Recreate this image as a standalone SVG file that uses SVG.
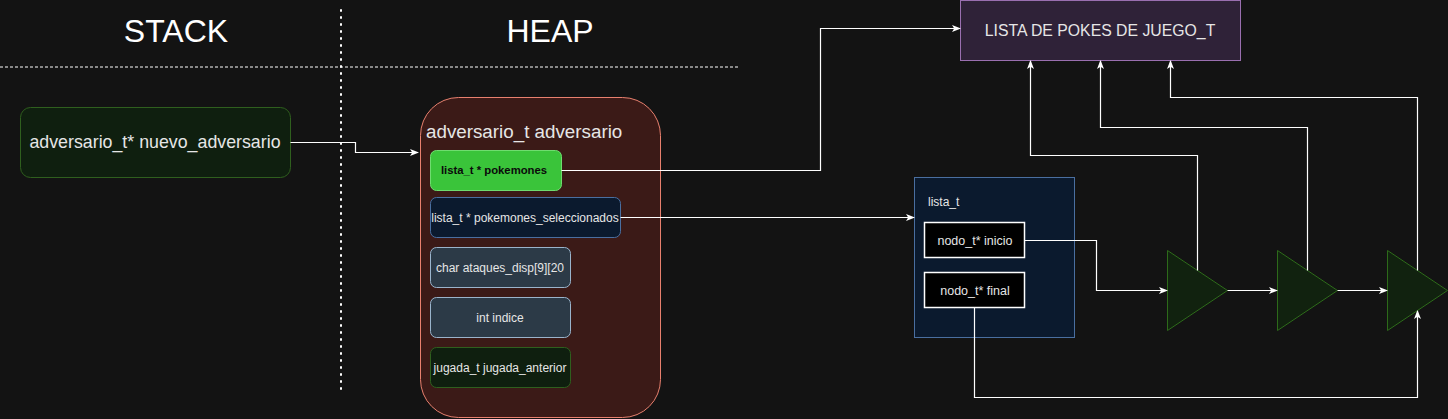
<svg xmlns="http://www.w3.org/2000/svg" width="1448" height="419" viewBox="0 0 1448 419">
<style>
text{font-family:"Liberation Sans",Arial,sans-serif;fill:#e6e6e6}
.edge{fill:none;stroke:#ffffff;stroke-width:1.2}
.tri{fill:#11220f;stroke:#2d6a1a;stroke-width:1}
</style>
<defs>
<marker id="arr" markerWidth="10" markerHeight="8" refX="8" refY="4" orient="auto" markerUnits="userSpaceOnUse">
<path d="M0,0.5 L9,4 L0,7.5 L2.2,4 Z" fill="#ffffff"/>
</marker>
</defs>
<rect width="1448" height="419" fill="#131313"/>

<g id="headers">
<text x="176" y="42" font-size="32" text-anchor="middle" style="fill:#ffffff">STACK</text>
<text x="550" y="42" font-size="32" text-anchor="middle" style="fill:#ffffff">HEAP</text>
<line x1="341" y1="10" x2="341" y2="392" stroke="#ffffff" stroke-width="2" stroke-dasharray="1 6" stroke-linecap="round"/>
<line x1="0" y1="67" x2="740" y2="67" stroke="#ffffff" stroke-width="1" stroke-dasharray="3 2"/>
</g>

<g id="nuevo_adversario">
<rect x="20.5" y="107.5" width="270" height="70" rx="10" fill="#0f1f0f" stroke="#2f5f1e"/>
<text x="155" y="148" font-size="17.8" text-anchor="middle">adversario_t* nuevo_adversario</text>
</g>

<g id="adversario">
<rect x="420.5" y="97.5" width="240" height="320" rx="38" fill="#3b1a17" stroke="#e8806e"/>
<text x="426" y="138" font-size="18.8">adversario_t adversario</text>
</g>

<g id="pokemones">
<rect x="430.5" y="150.5" width="131" height="40" rx="6" fill="#3ac43a" stroke="#6fdc6f"/>
<text x="494" y="174" font-size="11.3" font-weight="bold" text-anchor="middle" style="fill:#0a0a0a">lista_t * pokemones</text>
</g>

<g id="pokemones_seleccionados">
<rect x="430.5" y="197.5" width="190" height="40" rx="6" fill="#0b1a2e" stroke="#4a6fa0"/>
<text x="525" y="221.5" font-size="12" text-anchor="middle">lista_t * pokemones_seleccionados</text>
</g>

<g id="ataques_disp">
<rect x="430.5" y="247.5" width="140" height="40" rx="6" fill="#2c3a47" stroke="#9ab4cc"/>
<text x="500" y="271.5" font-size="12" text-anchor="middle">char ataques_disp[9][20</text>
</g>

<g id="indice">
<rect x="430.5" y="297.5" width="140" height="40" rx="6" fill="#2c3a47" stroke="#9ab4cc"/>
<text x="500" y="321.5" font-size="12" text-anchor="middle">int indice</text>
</g>

<g id="jugada_anterior">
<rect x="430.5" y="347.5" width="140" height="40" rx="6" fill="#0f1f0f" stroke="#2f5f1e"/>
<text x="500" y="371.5" font-size="12" text-anchor="middle">jugada_t jugada_anterior</text>
</g>

<g id="lista_juego">
<rect x="960.5" y="0.5" width="280" height="60" fill="#2f2238" stroke="#9a6fb0"/>
<text x="1100" y="35.5" font-size="15.8" text-anchor="middle">LISTA DE POKES DE JUEGO_T</text>
</g>

<g id="lista_t">
<rect x="914.5" y="177.5" width="160" height="160" fill="#0b1a2e" stroke="#4a6fa0"/>
<text x="928" y="206" font-size="12">lista_t</text>
</g>

<g id="inicio">
<rect x="924.5" y="222.5" width="100" height="35" fill="#000000" stroke="#ffffff" stroke-width="1.5"/>
<text x="975" y="244.5" font-size="12.5" text-anchor="middle">nodo_t* inicio</text>
</g>

<g id="final">
<rect x="924.5" y="272.5" width="100" height="35" fill="#000000" stroke="#ffffff" stroke-width="1.5"/>
<text x="975" y="294.5" font-size="12.5" text-anchor="middle">nodo_t* final</text>
</g>

<g id="nodo1"><polygon class="tri" points="1167.5,250.5 1227.5,290.5 1167.5,330.5"/></g>
<g id="nodo2"><polygon class="tri" points="1277.5,250.5 1337.5,290.5 1277.5,330.5"/></g>
<g id="nodo3"><polygon class="tri" points="1387.5,250.5 1447.5,290.5 1387.5,330.5"/></g>

<g id="connectors">
<path class="edge" d="M290.5,142.5 H355.5 V152.5 H418" marker-end="url(#arr)"/>
<path class="edge" d="M561.5,170.5 H820.5 V28.5 H960" marker-end="url(#arr)"/>
<path class="edge" d="M620.5,217.5 H914" marker-end="url(#arr)"/>
<path class="edge" d="M1024.5,240.5 H1096.5 V290.5 H1167" marker-end="url(#arr)"/>
<path class="edge" d="M1227.5,290.5 H1277" marker-end="url(#arr)"/>
<path class="edge" d="M1337.5,290.5 H1387" marker-end="url(#arr)"/>
<path class="edge" d="M974.5,307.5 V397.5 H1417.5 V311" marker-end="url(#arr)"/>
<path class="edge" d="M1197.5,270.5 V155.5 H1030.5 V61" marker-end="url(#arr)"/>
<path class="edge" d="M1307.5,270.5 V127.5 H1100.5 V61" marker-end="url(#arr)"/>
<path class="edge" d="M1417.5,270.5 V97.5 H1170.5 V61" marker-end="url(#arr)"/>
</g>
</svg>
